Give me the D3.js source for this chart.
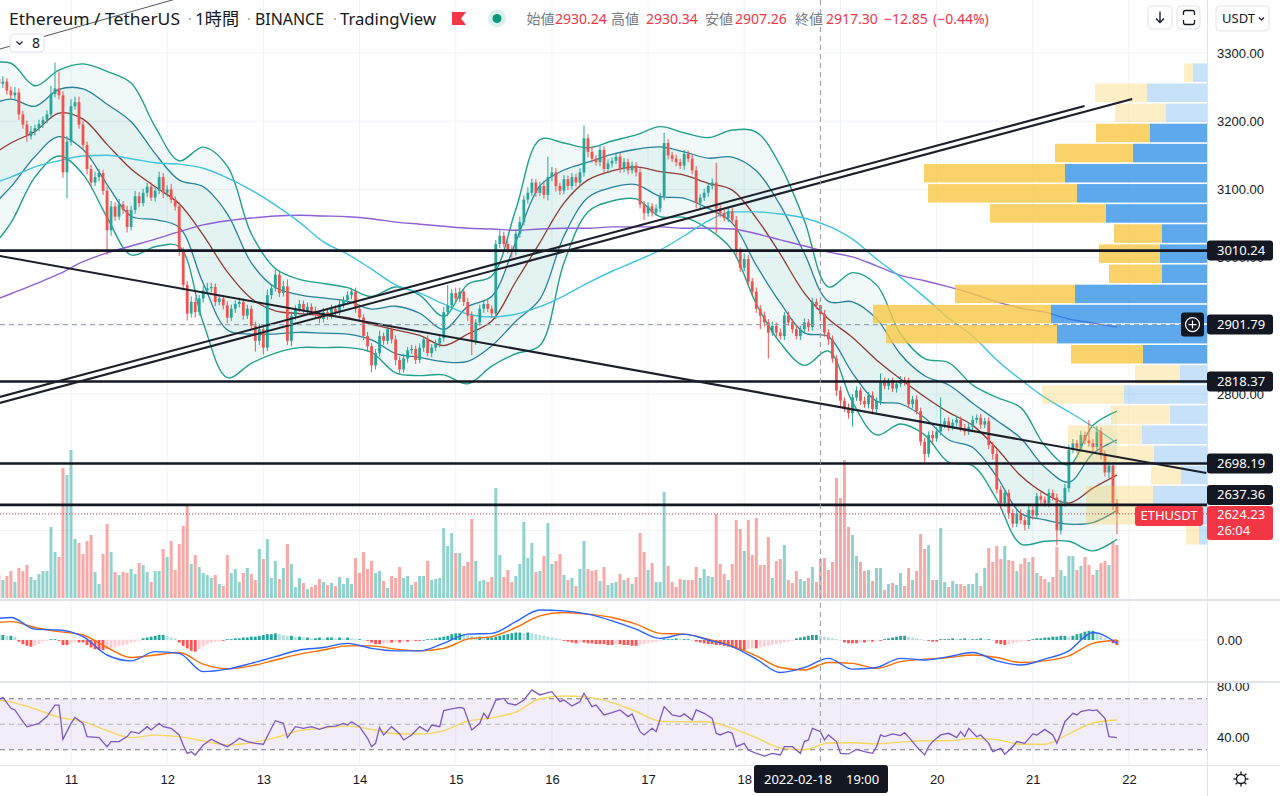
<!DOCTYPE html>
<html>
<head>
<meta charset="utf-8">
<script src="https://cdn.jsdelivr.net/npm/d3@7"></script>
<style>
  html, body { margin: 0; padding: 0; background: #fff; overflow: hidden; }
  svg { display: block; font-family: "Noto Sans", "Noto Sans CJK JP", sans-serif; }
</style>
</head>
<body>
<svg id="chart" width="1280" height="796"></svg>
<script>
// ETHUSDT 1h, Binance, 2022-02-10 06:00 .. 2022-02-21 21:00 (one value per hour)
const firstOpen = 3262;
const closes = [
  3255, 3258, 3245, 3238, 3242, 3210, 3195, 3178, 3185, 3190, 3196, 3202, 3210, 3240, 3248, 3238, 3125, 3170,
  3222, 3228, 3195, 3165, 3130, 3110, 3118, 3124, 3098, 3040, 3075, 3060, 3078, 3070, 3045, 3070, 3090, 3080, 3095, 3104, 3088, 3098, 3118, 3095,
  3100, 3085, 3075, 3010, 2960, 2918, 2935, 2920, 2940, 2952, 2955, 2957, 2935, 2940, 2930, 2912, 2925, 2932, 2935, 2915, 2925, 2900, 2878, 2895,
  2868, 2945, 2955, 2975, 2948, 2958, 2878, 2915, 2925, 2932, 2922, 2928, 2922, 2916, 2910, 2920, 2915, 2925, 2920, 2932, 2938, 2945, 2950, 2925,
  2912, 2885, 2870, 2842, 2860, 2885, 2878, 2895, 2880, 2850, 2836, 2852, 2864, 2866, 2850, 2868, 2880, 2860, 2868, 2874, 2882, 2920, 2930, 2948,
  2940, 2950, 2935, 2915, 2878, 2905, 2925, 2932, 2925, 2918, 3020, 3032, 3020, 3012, 3008, 3035, 3052, 3085, 3095, 3110, 3095, 3105, 3092, 3118,
  3125, 3105, 3098, 3115, 3105, 3118, 3110, 3125, 3175, 3155, 3145, 3140, 3158, 3130, 3138, 3142, 3148, 3130, 3140, 3128, 3135, 3125, 3078, 3065,
  3075, 3066, 3072, 3090, 3168, 3150, 3145, 3140, 3135, 3152, 3145, 3128, 3080, 3088, 3095, 3105, 3110, 3072, 3065, 3058, 3068, 3055, 3010, 2985,
  2998, 2965, 2950, 2925, 2915, 2905, 2890, 2900, 2890, 2885, 2915, 2905, 2895, 2885, 2895, 2905, 2898, 2935, 2930.24, 2917.30, 2890, 2880, 2852, 2805,
  2790, 2780, 2772, 2795, 2805, 2790, 2785, 2798, 2778, 2790, 2818, 2812, 2818, 2808, 2815, 2820, 2818, 2785, 2792, 2775, 2730, 2712, 2740, 2735,
  2745, 2755, 2760, 2752, 2758, 2762, 2750, 2745, 2752, 2762, 2765, 2755, 2760, 2725, 2712, 2660, 2640, 2655, 2625, 2610, 2625, 2615, 2608, 2630,
  2622, 2650, 2645, 2640, 2655, 2648, 2600, 2640, 2662, 2718, 2728, 2720, 2740, 2732, 2728, 2722, 2745, 2712, 2685, 2695, 2640, 2624.23
];
// wick above the body / below the body, in USDT
const wickUp = [
  6, 8, 5, 6, 8, 6, 5, 6, 8, 5, 6, 5, 6, 12, 38, 25, 6, 8,
  10, 8, 8, 6, 5, 6, 8, 6, 5, 6, 8, 6, 8, 5, 6, 6, 8, 6, 6, 5, 6, 6, 8, 6,
  6, 8, 5, 6, 5, 6, 8, 6, 5, 6, 8, 6, 5, 6, 5, 6, 6, 5, 6, 5, 6, 5, 6, 8,
  6, 8, 6, 8, 6, 8, 10, 6, 5, 6, 5, 6, 5, 6, 5, 6, 5, 6, 5, 6, 5, 6, 5, 6,
  6, 5, 6, 5, 6, 8, 5, 6, 5, 6, 5, 6, 5, 6, 5, 6, 5, 6, 5, 6, 5, 8, 30, 6,
  8, 6, 5, 6, 6, 5, 6, 5, 6, 5, 6, 8, 6, 5, 6, 6, 8, 6, 8, 6, 5, 6, 8, 30,
  8, 6, 5, 6, 5, 6, 5, 6, 19, 6, 8, 5, 6, 5, 6, 5, 6, 5, 6, 5, 6, 5, 6, 5,
  6, 5, 6, 5, 15, 6, 5, 6, 5, 6, 5, 6, 6, 5, 6, 5, 6, 29, 6, 5, 6, 5, 6, 5,
  8, 6, 5, 6, 5, 6, 5, 6, 5, 6, 5, 6, 5, 6, 5, 6, 5, 6, 5, 0.1, 6, 5, 6, 5,
  6, 5, 6, 5, 6, 5, 6, 5, 6, 5, 12, 6, 5, 6, 5, 6, 5, 6, 5, 6, 5, 6, 5, 6,
  6, 40, 5, 6, 5, 6, 5, 6, 5, 6, 5, 6, 5, 6, 5, 6, 5, 6, 5, 6, 5, 6, 5, 6,
  6, 5, 6, 5, 6, 5, 6, 5, 6, 8, 6, 5, 6, 5, 30, 6, 8, 6, 5, 6, 5, 6
];
const wickDn = [
  5, 6, 6, 5, 6, 8, 6, 8, 5, 6, 5, 6, 5, 6, 5, 6, 8, 38,
  6, 5, 6, 6, 8, 6, 5, 6, 6, 36, 8, 6, 5, 6, 8, 5, 6, 6, 5, 6, 5, 6, 5, 8,
  6, 5, 6, 8, 8, 10, 6, 8, 5, 6, 5, 6, 6, 5, 6, 8, 5, 6, 5, 6, 5, 6, 16, 6,
  10, 5, 6, 5, 6, 5, 6, 8, 6, 5, 6, 5, 6, 5, 6, 5, 6, 5, 6, 5, 6, 5, 6, 6,
  5, 6, 8, 10, 6, 5, 6, 5, 6, 8, 6, 5, 6, 5, 6, 5, 6, 5, 6, 5, 6, 5, 6, 5,
  6, 5, 6, 8, 21, 6, 5, 6, 5, 6, 8, 6, 5, 6, 8, 5, 6, 5, 6, 5, 6, 5, 6, 8,
  6, 8, 6, 5, 6, 5, 6, 5, 6, 8, 6, 5, 6, 8, 5, 6, 5, 6, 5, 6, 5, 6, 6, 10,
  5, 6, 5, 6, 6, 6, 5, 6, 5, 6, 5, 6, 8, 10, 5, 6, 5, 36, 6, 5, 6, 5, 8, 6,
  5, 6, 5, 6, 20, 6, 38, 5, 6, 5, 6, 5, 6, 5, 6, 5, 6, 5, 6, 10.04, 6, 8, 6, 8,
  8, 6, 8, 20, 5, 6, 5, 6, 8, 5, 6, 5, 6, 5, 6, 5, 6, 5, 6, 5, 6, 12, 5, 6,
  5, 6, 5, 6, 5, 6, 5, 6, 5, 6, 5, 6, 5, 6, 8, 6, 8, 6, 8, 6, 5, 6, 8, 6,
  6, 5, 6, 5, 6, 5, 22, 6, 5, 6, 5, 6, 5, 6, 5, 6, 5, 8, 6, 8, 10, 30
];
// hourly volume, hundreds of ETH
const volumes = [
  23, 18, 22, 27, 16, 30, 27, 33, 21, 18, 24, 27, 27, 71, 46, 41, 130, 123,
  148, 59, 55, 44, 57, 63, 26, 14, 44, 74, 46, 26, 23, 26, 25, 29, 24, 35, 33, 26, 16, 27, 27, 49,
  41, 57, 28, 54, 72, 92, 34, 43, 31, 25, 23, 20, 23, 14, 12, 43, 25, 29, 16, 25, 30, 24, 18, 49,
  39, 59, 20, 37, 19, 30, 54, 34, 11, 20, 15, 9, 11, 13, 19, 16, 13, 15, 12, 21, 14, 20, 14, 40,
  25, 46, 29, 37, 25, 27, 17, 10, 22, 20, 31, 20, 22, 13, 16, 22, 22, 37, 18, 19, 20, 70, 52, 65,
  45, 45, 32, 36, 79, 37, 17, 18, 16, 21, 110, 43, 21, 28, 16, 22, 34, 76, 40, 55, 26, 27, 42, 75,
  34, 37, 44, 23, 18, 20, 12, 29, 57, 29, 27, 28, 17, 31, 13, 15, 16, 24, 18, 20, 14, 21, 65, 46,
  28, 35, 16, 16, 106, 32, 16, 11, 19, 18, 18, 18, 31, 20, 29, 22, 21, 84, 34, 24, 18, 34, 78, 69,
  47, 78, 43, 80, 33, 33, 61, 20, 37, 39, 53, 18, 15, 27, 19, 17, 20, 31, 16, 39, 40, 28, 36, 120,
  100, 138, 71, 63, 42, 36, 27, 28, 17, 30, 30, 8, 14, 15, 13, 25, 12, 30, 18, 27, 64, 49, 53, 18,
  18, 70, 16, 11, 17, 14, 14, 12, 14, 14, 25, 12, 30, 50, 36, 52, 39, 52, 38, 37, 27, 34, 40, 36,
  41, 25, 22, 19, 16, 21, 51, 28, 22, 42, 42, 28, 32, 41, 33, 23, 28, 35, 37, 33, 57, 53
];

// overlays sampled every 6 hours, starting 3 hours before the first bar
const bbMid = [3145, 3168, 3185, 3212, 3203, 3166, 3130, 3104, 3079, 3033, 2979, 2940, 2922, 2918, 2915, 2912,
  2902, 2894, 2886, 2871, 2888, 2907, 2965, 3022, 3080, 3114, 3127, 3133, 3126, 3121, 3109, 3099,
  3058, 3005, 2948, 2910, 2883, 2850, 2822, 2796, 2773, 2754, 2720, 2680, 2654, 2640, 2662, 2681];
const bbOuter = [139, 117, 67, 63, 81, 107, 126, 88, 63, 129, 155, 95, 62, 50, 47, 44,
  41, 63, 59, 43, 73, 66, 106, 151, 88, 47, 44, 47, 66, 62, 67, 88,
  126, 130, 106, 47, 95, 110, 66, 56, 73, 59, 75, 100, 70, 56, 92, 94];
const bbInnerMult = 0.55;
const maCyan = [3106, 3118, 3133, 3142, 3149, 3150, 3145, 3139, 3137, 3131, 3117, 3099, 3077, 3052, 3023, 3005,
  2983, 2960, 2948, 2932, 2917, 2913, 2917, 2928, 2944, 2963, 2980, 2995, 3011, 3032, 3054, 3067,
  3067, 3064, 3058, 3046, 3027, 2998, 2971, 2942, 2911, 2885, 2850, 2821, 2795, 2774, 2752, 2728];
const maPurple = [2933, 2947, 2961, 2976, 2994, 3007, 3017, 3027, 3038, 3048, 3054, 3058, 3061, 3062, 3061, 3060,
  3057, 3052, 3049, 3046, 3043, 3042, 3040, 3042, 3043, 3043, 3045, 3045, 3045, 3043, 3043, 3042,
  3035, 3026, 3017, 3008, 3001, 2988, 2974, 2966, 2957, 2947, 2935, 2926, 2920, 2910, 2904, 2898];
const macdLine = [24, 27, 13, 12, 4, -18, -25, -14, -16, -38, -35, -28, -20, -12, -9, -4,
  -10, -13, -13, -4, 7, 8, 22, 36, 35, 31, 23, 13, 2, 7, 0, -8,
  -23, -39, -33, -22, -35, -33, -22, -24, -20, -15, -25, -30, -23, -13, 9, -4];
const signalLine = [19, 22, 15, 10, 6, -9, -21, -18, -15, -29, -34.5, -31, -24, -17, -12, -7,
  -7, -11, -13, -10, 1, 4, 15, 29, 33, 31, 27, 19, 8, 7, 1, -7,
  -19, -33, -36, -27, -28, -34, -26, -23, -21, -18, -21, -27, -25, -19, -4, 0];
const rsiMa = [70, 67.5, 62, 55.5, 52, 45, 39.5, 41.5, 40.3, 37, 33.8, 35.5, 39.5, 45, 47, 48.5,
  46, 42.6, 42.3, 45, 52.5, 55, 59.5, 70, 72.2, 71.3, 67, 60, 52.4, 52, 51.8, 47,
  39.5, 31.5, 30, 35.3, 35.5, 34.6, 36, 37.1, 37.1, 38.8, 37.9, 34.3, 34.3, 42.5, 51, 53.3];
// MACD histogram, one per bar
const macdHist = [
  6, 6, 5, 5, 4, -2, -5, -7, -8, -7, -5, -2, -1, 1, 1, -1, -6, -6,
  -4, -2, -3, -3, -6, -9, -11, -12, -12, -11, -10, -9, -7, -6, -5, -3, -2, -1, 2, 3, 4, 5, 6, 6,
  5, 3, 2, -3, -7, -10, -13, -14, -11, -8, -5, -3, -2, -1, -1, 1, 1, 2, 2, 3, 3, 4, 4, 5,
  6, 7, 7, 8, 7, 6, 5, 5, 4, 4, 3, 3, 2, 2, 3, 2, 3, 3, 2, 3, 2, 3, 2, 1,
  1, 0, -1, -3, -5, -5, -4, -3, -3, -2, -3, -2, -2, -1, -1, -1, 0, 1, 1, 2, 3, 4, 5, 7,
  8, 8, 7, 6, 5, 4, 4, 3, 3, 3, 4, 5, 6, 7, 8, 9, 9, 8, 9, 8, 7, 6, 5, 4,
  3, 2, 1, -1, -2, -3, -4, -3, -3, -4, -4, -5, -5, -5, -6, -6, -5, -5, -6, -6, -7, -7, -6, -5,
  -4, -3, -2, -1, 1, 1, 1, 2, 1, 1, 1, 0, -2, -3, -4, -5, -5, -6, -6, -7, -8, -9, -10, -11,
  -12, -11, -10, -10, -9, -8, -7, -6, -5, -4, -3, -2, -1, 2, 3, 4, 5, 6, 6, 5, 4, 3, 2, 1,
  0, -3, -4, -4, -4, -3, -3, -2, -2, -1, -1, 1, 2, 3, 4, 5, 5, 4, 3, 2, 1, 0, -1, -2,
  -2, 1, 1, 1, 2, 1, 1, 2, 1, 1, 1, 2, 1, 1, 0, -4, -5, -6, -5, -4, -3, -2, -1, -1,
  1, 2, 2, 3, 3, 4, 4, 5, 5, 4, 5, 7, 8, 10, 11, 11, 8, 5, 2, -2, -4, -6
];
// RSI(14) vertices: [bar index, value]
const rsiPoints = [
  [0, 69], [1, 71], [3, 62.5], [4, 61.2], [6, 52], [7, 48], [10, 50.7], [12, 56], [14, 65], [15, 65], [16, 38.2], [18, 50.7],
  [19, 55.4], [21, 50.7], [22, 40.3], [25, 39.5], [27, 32.4], [28, 36.4], [30, 36.4], [32, 40.3], [33, 44.2], [35, 42.9],
  [37, 48.1], [38, 45.5], [40, 50.7], [41, 48.1], [43, 46.8], [45, 41.6], [46, 33.7], [47, 27.2], [48, 28.5], [49, 25.9],
  [51, 33.7], [53, 38.2], [55, 35], [57, 32.4], [59, 36.4], [60, 39], [62, 36.4], [64, 35], [66, 34.3], [68, 46.8], [69, 52.8],
  [71, 50.7], [72, 39.5], [74, 48.1], [76, 46.8], [78, 48.1], [80, 46], [82, 48.1], [84, 48.6], [86, 50.7], [87, 49.4], [88, 52],
  [90, 48.1], [92, 39], [93, 32.4], [94, 35], [95, 47.6], [96, 41.6], [98, 48.1], [100, 42.4], [101, 37.7], [103, 41.6],
  [105, 48.1], [107, 44.2], [108, 49.4], [110, 48.1], [111, 60.7], [113, 62], [115, 63.3], [116, 62.5], [118, 45.5], [120, 50.7],
  [121, 58.6], [122, 54.6], [124, 69], [126, 70.3], [127, 66.4], [129, 65.1], [131, 69], [133, 76.9], [135, 73], [137, 74.8],
  [138, 75.6], [140, 67.7], [141, 69], [143, 64.3], [145, 67.7], [146, 74.3], [148, 63.8], [149, 65.1], [151, 57.3], [153, 59.1],
  [155, 61.2], [157, 56], [158, 58.1], [160, 44.2], [161, 41.6], [163, 46.8], [164, 44.2], [166, 63.8], [168, 57.3], [170, 56],
  [171, 58.1], [173, 53.3], [174, 61.2], [176, 58.6], [178, 54.6], [179, 42.9], [180, 41.6], [182, 44.2], [183, 42.9], [184, 32.4],
  [186, 35], [187, 29.8], [189, 27.2], [191, 25.1], [193, 27.2], [195, 25.9], [196, 32.4], [198, 32.4], [200, 27.2], [201, 36.4],
  [202, 37.7], [203, 46.8], [205, 44.2], [206, 37.7], [207, 41.6], [209, 36.4], [210, 27.2], [212, 26.7], [214, 30.3], [216, 28.5],
  [218, 27.2], [219, 32.4], [220, 41.6], [221, 40.3], [223, 42.4], [225, 41.1], [226, 43.4], [228, 36.4], [229, 32.4], [231, 25.9],
  [232, 32.4], [233, 36.4], [235, 41.6], [237, 42.9], [239, 39.7], [240, 44.2], [241, 40.3], [242, 46.8], [244, 40.3], [245, 41.6],
  [247, 35], [248, 28.5], [250, 31.1], [251, 26.4], [253, 32.4], [254, 36.4], [256, 35], [258, 42.4], [259, 41.6], [261, 46],
  [263, 41.6], [264, 35], [265, 42.9], [266, 52], [268, 58.6], [269, 57.3], [270, 60], [272, 61.2], [273, 60.7], [274, 61.2],
  [276, 54.6], [277, 40.3], [279, 39.5]
];

// visible-range volume profile, 24 rows from top to bottom
const vpDown = [9, 52, 51, 54, 78, 141, 149, 116, 48, 61, 53, 120, 178, 171, 72, 45, 82, 59, 74, 78, 30, 67, 65, 13];
const vpUp = [14, 60, 41, 57, 74, 142, 130, 101, 45, 47, 45, 132, 156, 150, 64, 27, 83, 37, 65, 53, 26, 54, 56, 8];
const valueArea = [3, 14];

// drawings
const levels = [3010.24, 2818.37, 2698.19, 2637.36];
const trendSegments = [ // [bar1, price1, bar2, price2]
  [-10, 2779.5, 270.9, 3222.3],
  [-10, 2770.7, 282.8, 3232.6],
  [-10, 3013.2, 301.3, 2684.2],
  [0.3, 3305.9, 50, 3389]
];
const priceTicks = [2600, 2700, 2800, 2900, 3000, 3100, 3200, 3300];
const crossBar = 205, crossPrice = 2901.79;
const lastPrice = 2624.23, countdown = '26:04';
const legend = { open: '2930.24', high: '2930.34', low: '2907.26', close: '2917.30', change: '\u221212.85', pct: '(\u22120.44%)' };

// ---------------------------------------------------------------
const plotRight = 1207;
const HOUR = 3600e3;
const startTime = Date.UTC(2022, 1, 10, 6);
const upColor = '#26a69a', downColor = '#ef5350';

const x = d3.scaleUtc().domain([new Date(Date.UTC(2022, 1, 11)), new Date(Date.UTC(2022, 1, 22))]).range([71, 1129]);
const xk = k => x(new Date(startTime + k * HOUR));
const y = d3.scaleLinear().domain([2800, 3300]).range([394, 53]);
const yVol = d3.scaleLinear().domain([0, 150]).range([598, 448]);
const yMacd = d3.scaleLinear().domain([-48, 48]).range([680, 600]);
const yRsi = d3.scaleLinear().domain([30, 70]).range([749.75, 698.75]);

const candles = closes.map((c, k) => {
  const o = k === 0 ? firstOpen : closes[k - 1];
  return { k, o, c, h: Math.max(o, c) + wickUp[k], l: Math.min(o, c) - wickDn[k], v: volumes[k] };
});
const sampled = arr => arr.map((v, j) => ({ k: -3 + 6 * j, v }));

const svg = d3.select('#chart');
const defs = svg.append('defs');
defs.append('clipPath').attr('id', 'clipMain').append('rect').attr('x', 0).attr('y', 0).attr('width', plotRight).attr('height', 600);
defs.append('clipPath').attr('id', 'clipMacd').append('rect').attr('x', 0).attr('y', 601).attr('width', plotRight).attr('height', 80);
defs.append('clipPath').attr('id', 'clipRsi').append('rect').attr('x', 0).attr('y', 683).attr('width', plotRight).attr('height', 82);
// used inside the translated axis group, so x is local
defs.append('clipPath').attr('id', 'clipRsiAxis').append('rect').attr('x', 0).attr('y', 683).attr('width', 80).attr('height', 82);

// grid
const days = d3.range(11, 23).map(d => new Date(Date.UTC(2022, 1, d)));
svg.append('g').selectAll('line').data(days).join('line')
  .attr('x1', d => x(d)).attr('x2', d => x(d)).attr('y1', 0).attr('y2', 765)
  .attr('stroke', '#f0f3fa');
svg.append('g').selectAll('line').data(priceTicks).join('line')
  .attr('x1', 0).attr('x2', plotRight).attr('y1', d => y(d)).attr('y2', d => y(d))
  .attr('stroke', '#f0f3fa');

// ---------------- main pane ----------------
const main = svg.append('g').attr('clip-path', 'url(#clipMain)');

// volume
main.append('g').selectAll('rect').data(candles).join('rect')
  .attr('x', d => xk(d.k) - 1.5).attr('width', 3)
  .attr('y', d => yVol(d.v)).attr('height', d => yVol(0) - yVol(d.v))
  .attr('fill', d => d.c >= d.o ? 'rgba(38,166,154,0.5)' : 'rgba(239,83,80,0.5)');

// bollinger bands
const bb = bbMid.map((m, j) => ({ k: -3 + 6 * j, m, w: bbOuter[j] }));
const bbCurve = d3.curveCatmullRom.alpha(0.5);
const bandArea = mult => d3.area().curve(bbCurve).x(d => xk(d.k))
  .y0(d => y(d.m - d.w * mult)).y1(d => y(d.m + d.w * mult));
const bandLine = mult => d3.line().curve(bbCurve).x(d => xk(d.k)).y(d => y(d.m + d.w * mult));
main.append('path').datum(bb).attr('d', bandArea(1)).attr('fill', 'rgba(0,150,136,0.055)');
main.append('path').datum(bb).attr('d', bandArea(bbInnerMult)).attr('fill', 'rgba(0,150,136,0.06)');
[1, -1].forEach(s => {
  main.append('path').datum(bb).attr('d', bandLine(s)).attr('fill', 'none').attr('stroke', '#22a08c').attr('stroke-width', 1.4);
  main.append('path').datum(bb).attr('d', bandLine(s * bbInnerMult)).attr('fill', 'none').attr('stroke', '#2a819c').attr('stroke-width', 1.3);
});
main.append('path').datum(bb).attr('d', bandLine(0)).attr('fill', 'none').attr('stroke', '#8e3b34').attr('stroke-width', 1.3);

// moving averages
const maLine = d3.line().curve(d3.curveMonotoneX).x(d => xk(d.k)).y(d => y(d.v));
main.append('path').datum(sampled(maPurple)).attr('d', maLine).attr('fill', 'none').attr('stroke', '#8d5fd5').attr('stroke-width', 1.4);
main.append('path').datum(sampled(maCyan)).attr('d', maLine).attr('fill', 'none').attr('stroke', '#3fc3df').attr('stroke-width', 1.4);

// candles
const cg = main.append('g');
cg.selectAll('line').data(candles).join('line')
  .attr('x1', d => xk(d.k)).attr('x2', d => xk(d.k))
  .attr('y1', d => y(d.h)).attr('y2', d => y(d.l))
  .attr('stroke', d => d.c >= d.o ? upColor : downColor).attr('stroke-width', 1);
cg.selectAll('rect').data(candles).join('rect')
  .attr('x', d => xk(d.k) - 1.4).attr('width', 2.8)
  .attr('y', d => y(Math.max(d.o, d.c)))
  .attr('height', d => Math.max(1, Math.abs(y(d.o) - y(d.c))))
  .attr('fill', d => d.c >= d.o ? upColor : downColor);

// volume profile
const vpHigh = d3.max(candles, d => d.h), vpLow = d3.min(candles, d => d.l);
const rowSize = (vpHigh - vpLow) / vpUp.length;
const vpTotals = vpUp.map((u, i) => u + vpDown[i]);
const vpW = d3.scaleLinear().domain([0, d3.max(vpTotals)]).range([0, 334]);
const vpRows = vpUp.map((u, i) => ({
  i, u, dn: vpDown[i],
  y0: y(vpHigh - i * rowSize), y1: y(vpHigh - (i + 1) * rowSize),
  inVA: i >= valueArea[0] && i <= valueArea[1]
}));
const vpg = main.append('g');
vpg.selectAll('rect.up').data(vpRows).join('rect').attr('class', 'up')
  .attr('x', d => plotRight - vpW(d.u)).attr('width', d => vpW(d.u))
  .attr('y', d => d.y0 + 0.8).attr('height', d => d.y1 - d.y0 - 1.6)
  .attr('fill', '#1e88e5').attr('fill-opacity', d => d.inVA ? 0.72 : 0.25);
vpg.selectAll('rect.dn').data(vpRows).join('rect').attr('class', 'dn')
  .attr('x', d => plotRight - vpW(d.u + d.dn)).attr('width', d => vpW(d.dn))
  .attr('y', d => d.y0 + 0.8).attr('height', d => d.y1 - d.y0 - 1.6)
  .attr('fill', '#f7c843').attr('fill-opacity', d => d.inVA ? 0.8 : 0.3);

// drawings
main.append('g').selectAll('line').data(levels).join('line')
  .attr('x1', 0).attr('x2', plotRight).attr('y1', d => y(d)).attr('y2', d => y(d))
  .attr('stroke', '#131722').attr('stroke-width', 2.6);
main.append('g').selectAll('line').data(trendSegments).join('line')
  .attr('x1', d => xk(d[0])).attr('y1', d => y(d[1])).attr('x2', d => xk(d[2])).attr('y2', d => y(d[3]))
  .attr('stroke', (d, i) => i === 3 ? '#50535e' : '#1c1f29')
  .attr('stroke-width', (d, i) => i === 3 ? 1 : 2.1);

// last price line
main.append('line').attr('x1', 0).attr('x2', plotRight).attr('y1', y(lastPrice)).attr('y2', y(lastPrice))
  .attr('stroke', '#f23645').attr('stroke-width', 1).attr('stroke-dasharray', '1,2');

// ---------------- MACD pane ----------------
const macdG = svg.append('g').attr('clip-path', 'url(#clipMacd)');
macdG.append('line').attr('x1', 0).attr('x2', plotRight).attr('y1', yMacd(0)).attr('y2', yMacd(0)).attr('stroke', '#f0f3fa');
macdG.append('g').selectAll('rect').data(macdHist).join('rect')
  .attr('x', (d, k) => xk(k) - 1.4).attr('width', 2.8)
  .attr('y', d => Math.min(yMacd(d), yMacd(0)))
  .attr('height', d => Math.max(0.6, Math.abs(yMacd(d) - yMacd(0))))
  .attr('fill', (d, k) => {
    const prev = k > 0 ? macdHist[k - 1] : d;
    if (d >= 0) return d >= prev ? '#26a69a' : '#b2dfdb';
    return d <= prev ? '#ff5252' : '#ffcdd2';
  });
const macdPath = d3.line().curve(d3.curveMonotoneX).x(d => xk(d.k)).y(d => yMacd(d.v));
macdG.append('path').datum(sampled(signalLine)).attr('d', macdPath).attr('fill', 'none').attr('stroke', '#ff6d00').attr('stroke-width', 1.4);
macdG.append('path').datum(sampled(macdLine)).attr('d', macdPath).attr('fill', 'none').attr('stroke', '#2962ff').attr('stroke-width', 1.4);

// ---------------- RSI pane ----------------
const rsiG = svg.append('g').attr('clip-path', 'url(#clipRsi)');
rsiG.append('rect').attr('x', 0).attr('width', plotRight).attr('y', yRsi(70)).attr('height', yRsi(30) - yRsi(70))
  .attr('fill', 'rgba(126,87,194,0.1)');
rsiG.append('g').selectAll('line').data([70, 50, 30]).join('line')
  .attr('x1', 0).attr('x2', plotRight).attr('y1', d => yRsi(d)).attr('y2', d => yRsi(d))
  .attr('stroke', d => d === 50 ? '#b2b5be' : '#787b86').attr('stroke-dasharray', '5,4').attr('stroke-width', 1);
rsiG.append('path').datum(sampled(rsiMa))
  .attr('d', d3.line().curve(d3.curveMonotoneX).x(d => xk(d.k)).y(d => yRsi(d.v)))
  .attr('fill', 'none').attr('stroke', '#f4d75c').attr('stroke-width', 1.4);
rsiG.append('path').datum(rsiPoints)
  .attr('d', d3.line().x(d => xk(d[0])).y(d => yRsi(d[1])))
  .attr('fill', 'none').attr('stroke', '#7e57c2').attr('stroke-width', 1.3);

// crosshair
svg.append('line').attr('x1', xk(crossBar)).attr('x2', xk(crossBar)).attr('y1', 0).attr('y2', 765)
  .attr('stroke', '#9598a1').attr('stroke-dasharray', '5,4');
svg.append('line').attr('x1', 0).attr('x2', 1181).attr('y1', y(crossPrice)).attr('y2', y(crossPrice))
  .attr('stroke', '#9598a1').attr('stroke-dasharray', '5,4');

// pane separators
svg.append('rect').attr('x', plotRight).attr('y', 0).attr('width', 1280 - plotRight).attr('height', 796).attr('fill', '#fff');
svg.append('rect').attr('x', 0).attr('y', 765).attr('width', plotRight).attr('height', 31).attr('fill', '#fff');
[[600, 2], [682, 2], [765.5, 1]].forEach(([yy, w]) => {
  svg.append('line').attr('x1', 0).attr('x2', 1280).attr('y1', yy).attr('y2', yy).attr('stroke', '#e0e3eb').attr('stroke-width', w);
});
svg.append('line').attr('x1', plotRight + 0.5).attr('x2', plotRight + 0.5).attr('y1', 0).attr('y2', 796).attr('stroke', '#e0e3eb');

// ---------------- axes ----------------
const axisFont = g => g.selectAll('text').attr('font-size', 13).attr('fill', '#131722');
const yLast = y(lastPrice);
// price tick labels that would sit fully under a label box are not drawn (as on the reference)
const boxCentres = levels.map(y).concat([y(crossPrice)]);
const visibleTicks = priceTicks.filter(p => {
  const yy = y(p);
  if (yy > yLast - 10 && yy < yLast + 28) return false;
  return boxCentres.every(c => Math.abs(c - yy) > 6);
});
const yAxis = svg.append('g').attr('transform', `translate(${plotRight},0)`)
  .call(d3.axisRight(y).tickValues(visibleTicks).tickSize(0).tickPadding(10).tickFormat(d3.format('.2f')));
yAxis.select('.domain').remove(); yAxis.call(axisFont);

const macdAxis = svg.append('g').attr('transform', `translate(${plotRight},0)`)
  .call(d3.axisRight(yMacd).tickValues([0]).tickSize(0).tickPadding(10).tickFormat(d3.format('.2f')));
macdAxis.select('.domain').remove(); macdAxis.call(axisFont);

const rsiAxis = svg.append('g').attr('transform', `translate(${plotRight},0)`).attr('clip-path', 'url(#clipRsiAxis)')
  .append('g')
  .call(d3.axisRight(yRsi).tickValues([40, 80]).tickSize(0).tickPadding(10).tickFormat(d3.format('.2f')));
rsiAxis.select('.domain').remove(); rsiAxis.call(axisFont);

const xAxis = svg.append('g').attr('transform', 'translate(0,765)')
  .call(d3.axisBottom(x).tickValues(days).tickSize(0).tickPadding(10).tickFormat(d3.utcFormat('%-d')));
xAxis.select('.domain').remove(); xAxis.call(axisFont);

// price labels on the axis
function priceLabel(yc, txt, fill) {
  svg.append('rect').attr('x', plotRight).attr('y', yc - 10).attr('width', 66).attr('height', 20).attr('rx', 3).attr('fill', fill);
  svg.append('text').attr('x', plotRight + 10).attr('y', yc).attr('dy', '0.35em')
    .attr('font-size', 13).attr('fill', '#fff').text(txt);
}
levels.forEach(v => {
  let yc = y(v);
  if (Math.abs(yc - yLast) < 20) yc = yLast - 19;
  priceLabel(yc, d3.format('.2f')(v), '#131722');
});
priceLabel(y(crossPrice), d3.format('.2f')(crossPrice), '#131722');
// plus button on crosshair
svg.append('rect').attr('x', 1181).attr('y', y(crossPrice) - 12).attr('width', 23).attr('height', 24).attr('rx', 3).attr('fill', '#131722');
svg.append('circle').attr('cx', 1192.5).attr('cy', y(crossPrice)).attr('r', 7).attr('fill', 'none').attr('stroke', '#fff').attr('stroke-width', 1.2);
svg.append('path').attr('d', `M1188.5,${y(crossPrice)}h8M1192.5,${y(crossPrice) - 4}v8`).attr('stroke', '#fff').attr('stroke-width', 1.2);

// last price label
svg.append('rect').attr('x', plotRight).attr('y', yLast - 8).attr('width', 66).attr('height', 34).attr('rx', 3).attr('fill', '#f23645');
svg.append('text').attr('x', plotRight + 10).attr('y', yLast + 1).attr('dy', '0.35em').attr('font-size', 13).attr('fill', '#fff').text(d3.format('.2f')(lastPrice));
svg.append('text').attr('x', plotRight + 10).attr('y', yLast + 17).attr('dy', '0.35em').attr('font-size', 13).attr('fill', '#fff').text(countdown);
svg.append('rect').attr('x', 1135).attr('y', yLast - 8).attr('width', 68).attr('height', 20).attr('rx', 3).attr('fill', '#f23645');
svg.append('text').attr('x', 1169).attr('y', yLast + 2).attr('dy', '0.35em').attr('text-anchor', 'middle').attr('font-size', 13).attr('fill', '#fff').text('ETHUSDT');

// time label of crosshair
svg.append('rect').attr('x', 754).attr('y', 765).attr('width', 134).attr('height', 28).attr('rx', 3).attr('fill', '#131722');
svg.append('text').attr('x', 764).attr('y', 784).attr('font-size', 13).attr('fill', '#fff').text('2022-02-18');
svg.append('text').attr('x', 846).attr('y', 784).attr('font-size', 13).attr('fill', '#fff').text('19:00');

// settings gear
const gear = svg.append('g').attr('transform', 'translate(1241,779)').attr('stroke', '#131722').attr('fill', 'none').attr('stroke-width', 1.3);
gear.append('circle').attr('r', 4.5);
d3.range(8).forEach(i => {
  const a = i * Math.PI / 4;
  gear.append('line').attr('x1', Math.cos(a) * 4.5).attr('y1', Math.sin(a) * 4.5).attr('x2', Math.cos(a) * 7.5).attr('y2', Math.sin(a) * 7.5);
});

// ---------------- header ----------------
const head = svg.append('g').attr('fill', '#131722');
[['Ethereum / TetherUS', 9, 171], ['1時間', 195, 44], ['BINANCE', 255, 69], ['TradingView', 340, 96]].forEach(([t, xx, len]) => {
  head.append('text').attr('x', xx).attr('y', 25).attr('font-size', 17)
    .attr('textLength', len).attr('lengthAdjust', 'spacingAndGlyphs').text(t);
});
[188, 247, 333].forEach(xx => head.append('text').attr('x', xx).attr('y', 24).attr('font-size', 14).attr('fill', '#9598a1').text('·'));
head.append('path').attr('d', 'M452,12H466L461,18.5L466,25H452Z').attr('fill', '#f23645');
head.append('circle').attr('cx', 497).attr('cy', 18.5).attr('r', 9).attr('fill', 'rgba(8,153,129,0.15)');
head.append('circle').attr('cx', 497).attr('cy', 18.5).attr('r', 4.5).attr('fill', '#089981');
const ohlc = [
  ['始値', 526.5, '#787b86'], [legend.open, 555, '#f23645'],
  ['高値', 611, '#787b86'], [legend.high, 646, '#f23645'],
  ['安値', 705, '#787b86'], [legend.low, 735, '#f23645'],
  ['終値', 795, '#787b86'], [legend.close, 826, '#f23645'],
  [legend.change, 884, '#f23645'], [legend.pct, 933, '#f23645']
];
ohlc.forEach(([t, xx, c]) => head.append('text').attr('x', xx).attr('y', 23.5).attr('font-size', 14).attr('fill', c).text(t));

// indicators toggle
head.append('rect').attr('x', 10).attr('y', 34).attr('width', 34).attr('height', 18).attr('rx', 4).attr('fill', '#fff').attr('stroke', '#e0e3eb');
head.append('path').attr('d', 'M16.5,41.5l3,3l3,-3').attr('fill', 'none').attr('stroke', '#131722').attr('stroke-width', 1.2);
head.append('text').attr('x', 32).attr('y', 48).attr('font-size', 14).text('8');

// top-right controls
head.append('rect').attr('x', 1148).attr('y', 6).attr('width', 24).attr('height', 23).attr('rx', 4).attr('fill', '#fff').attr('stroke', '#e0e3eb');
head.append('path').attr('d', 'M1160,11.5v11M1156,18.5l4,4l4,-4').attr('fill', 'none').attr('stroke', '#131722').attr('stroke-width', 1.3);
head.append('rect').attr('x', 1177).attr('y', 6).attr('width', 23).attr('height', 23).attr('rx', 4).attr('fill', '#fff').attr('stroke', '#e0e3eb');
head.append('path').attr('d', 'M1183.5,15v-2.5a2,2 0 0 1 2,-2h7a2,2 0 0 1 2,2v2.5M1183.5,20v2.5a2,2 0 0 0 2,2h7a2,2 0 0 0 2,-2v-2.5')
  .attr('fill', 'none').attr('stroke', '#131722').attr('stroke-width', 1.3);
head.append('rect').attr('x', 1216).attr('y', 6).attr('width', 53).attr('height', 25).attr('rx', 4).attr('fill', '#fff').attr('stroke', '#e0e3eb');
head.append('text').attr('x', 1222).attr('y', 23).attr('font-size', 13).text('USDT');
head.append('path').attr('d', 'M1259,17.5l2.5,2.5l2.5,-2.5').attr('fill', 'none').attr('stroke', '#131722').attr('stroke-width', 1.2);
</script>
</body>
</html>
